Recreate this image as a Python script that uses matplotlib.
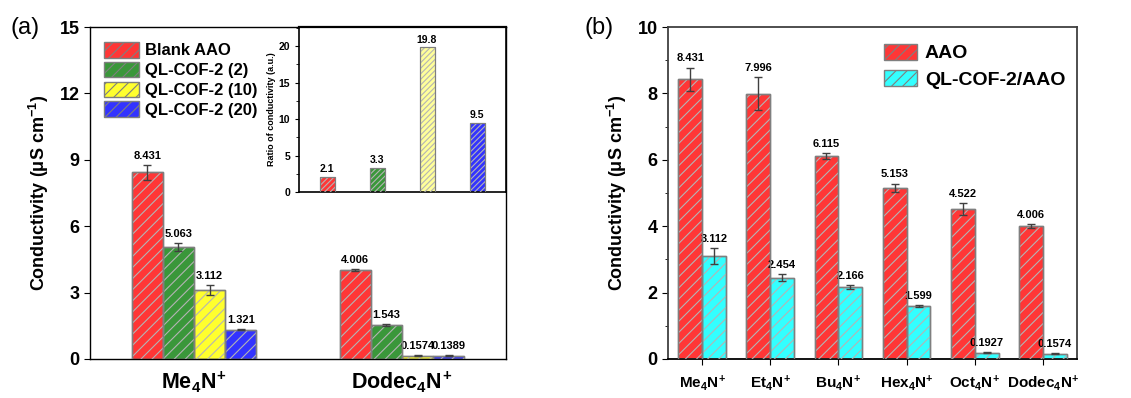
import numpy as np
import matplotlib
matplotlib.use("Agg")
import matplotlib.pyplot as plt

plt.rcParams['font.family'] = ['Liberation Sans', 'DejaVu Sans']
plt.rcParams['mathtext.fontset'] = 'custom'
plt.rcParams['mathtext.rm'] = 'Liberation Sans:bold'
plt.rcParams['mathtext.bf'] = 'Liberation Sans:bold'
plt.rcParams['mathtext.it'] = 'Liberation Sans:bold'
plt.rcParams['hatch.linewidth'] = 0.8

# ---- panel (a) data
groups_a = [r'$\mathbf{Me_4N^{\!+}}$', r'$\mathbf{Dodec_4N^{\!+}}$']
series_a = ['Blank AAO', 'QL-COF-2 (2)', 'QL-COF-2 (10)', 'QL-COF-2 (20)']
vals_a = [[8.431, 4.006], [5.063, 1.543], [3.112, 0.1574], [1.321, 0.1389]]
errs_a = [[0.34, 0.05], [0.18, 0.03], [0.24, 0.02], [0.03, 0.02]]
labels_a = [['8.431', '4.006'], ['5.063', '1.543'], ['3.112', '0.1574'], ['1.321', '0.1389']]
colors_a = ['#ff3636', '#3a973a', '#ffff2e', '#3333ff']

# inset data
ratio = [2.1, 3.3, 19.8, 9.5]
ratio_colors = ['#ff3636', '#3a973a', '#ffff9a', '#3333ff']

# ---- panel (b) data
groups_b = [r'$\mathbf{Me_4N^{\!+}}$', r'$\mathbf{Et_4N^{\!+}}$',
            r'$\mathbf{Bu_4N^{\!+}}$', r'$\mathbf{Hex_4N^{\!+}}$',
            r'$\mathbf{Oct_4N^{\!+}}$', r'$\mathbf{Dodec_4N^{\!+}}$']
aao = [8.431, 7.996, 6.115, 5.153, 4.522, 4.006]
aao_err = [0.35, 0.5, 0.09, 0.13, 0.17, 0.07]
cof = [3.112, 2.454, 2.166, 1.599, 0.1927, 0.1574]
cof_err = [0.24, 0.1, 0.07, 0.03, 0.02, 0.01]
aao_lbl = ['8.431', '7.996', '6.115', '5.153', '4.522', '4.006']
cof_lbl = ['3.112', '2.454', '2.166', '1.599', '0.1927', '0.1574']

edge = '#7f7f7f'
hatchc = '#b4b4b4'


def hbar(ax, x, h, w, c, yerr=None):
    ax.bar(x, h, w, color=c, edgecolor=edge, linewidth=1.0, zorder=2)
    ax.bar(x, h, w, color='none', edgecolor=hatchc, hatch='///', linewidth=0, zorder=3)
    ax.bar(x, h, w, color='none', edgecolor=edge, linewidth=1.0, zorder=4)
    if yerr is not None:
        ax.errorbar(x, h, yerr=yerr, fmt='none', ecolor='#404040', elinewidth=1,
                    capsize=3, capthick=1, zorder=5)


fig = plt.figure(figsize=(11.31, 3.98), dpi=100)

# ================= panel (a)
axa = fig.add_axes([0.0796, 0.098, 0.3678, 0.834])
xa = np.arange(1, len(groups_a) + 1)
w = 0.15
for i in range(len(series_a)):
    xs = xa + (i - 1.5) * w
    hbar(axa, xs, vals_a[i], w, colors_a[i], errs_a[i])
    for x, v, e, t in zip(xs, vals_a[i], errs_a[i], labels_a[i]):
        axa.annotate(t, (x, v + e), xytext=(0, 3), textcoords='offset points',
                     ha='center', va='bottom', fontsize=8, fontweight='bold')
axa.set_xlim(0.5, 2.5)
axa.set_ylim(0, 15)
axa.set_yticks(np.arange(0, 16, 3))
axa.set_xticks(xa)
axa.set_xticklabels(groups_a, fontsize=15.5)
axa.tick_params(axis='x', length=0, pad=8)
axa.tick_params(axis='y', direction='out', length=4, labelsize=13)
for t in axa.get_yticklabels():
    t.set_fontweight('bold')
axa.set_ylabel('Conductivity (μS cm$^{-1}$)', fontsize=13, fontweight='bold', labelpad=6)
for s in axa.spines.values():
    s.set_linewidth(1.0)

handles = [plt.Rectangle((0, 0), 1, 1, facecolor=c, edgecolor=edge, hatch='///')
           for c in colors_a]
leg = axa.legend(handles, series_a, loc='upper left', bbox_to_anchor=(0.01, 0.985),
                 frameon=False, prop={'size': 12, 'weight': 'bold'},
                 handlelength=2.1, handleheight=1.05, labelspacing=0.2,
                 handletextpad=0.35, borderaxespad=0.2)
fig.text(0.009, 0.93, '(a)', fontsize=17, ha='left', va='center')

# inset
axi = fig.add_axes([0.2644, 0.5176, 0.183, 0.4144])
xi = np.arange(1, len(ratio) + 1)
for x, v, c in zip(xi, ratio, ratio_colors):
    axi.bar(x, v, 0.3, color=c, edgecolor=edge, linewidth=0.8, zorder=2)
    axi.bar(x, v, 0.3, color='none', edgecolor=hatchc, hatch='//////', linewidth=0, zorder=3)
    axi.bar(x, v, 0.3, color='none', edgecolor=edge, linewidth=0.8, zorder=4)
    axi.annotate(f'{v:.1f}', (x, v), xytext=(0, 2), textcoords='offset points',
                 ha='center', va='bottom', fontsize=7.5, fontweight='bold')
axi.set_xlim(0.44, 4.58)
axi.set_ylim(0, 22.6)
axi.set_xticks([])
axi.set_yticks(np.arange(0, 21, 5))
axi.set_yticks(np.arange(2.5, 22.6, 5), minor=True)
axi.tick_params(axis='y', which='major', length=3, labelsize=7.5)
axi.tick_params(axis='y', which='minor', length=2)
for t in axi.get_yticklabels():
    t.set_fontweight('bold')
axi.set_ylabel('Ratio of conductivity (a.u.)', fontsize=6.5, fontweight='bold', labelpad=2)
for s in axi.spines.values():
    s.set_linewidth(1.2)
axi.spines['top'].set_linewidth(1.6)

# ================= panel (b)
axb = fig.add_axes([0.5906, 0.098, 0.3617, 0.834])
xb = np.arange(1, len(groups_b) + 1)
wb = 0.35
hbar(axb, xb - wb / 2, aao, wb, '#ff3636', aao_err)
hbar(axb, xb + wb / 2, cof, wb, '#33ffff', cof_err)
for x, v, e, t in zip(xb - wb / 2, aao, aao_err, aao_lbl):
    axb.annotate(t, (x, v + e), xytext=(0, 3), textcoords='offset points',
                 ha='center', va='bottom', fontsize=8, fontweight='bold')
for x, v, e, t in zip(xb + wb / 2, cof, cof_err, cof_lbl):
    axb.annotate(t, (x, v + e), xytext=(0, 3), textcoords='offset points',
                 ha='center', va='bottom', fontsize=8, fontweight='bold')
axb.set_xlim(0.5, 6.5)
axb.set_ylim(0, 10)
axb.set_yticks(np.arange(0, 11, 2))
axb.set_yticks(np.arange(1, 10, 2), minor=True)
axb.set_xticks(xb)
axb.set_xticklabels(groups_b, fontsize=11)
axb.tick_params(axis='x', direction='out', length=4, pad=6)
axb.tick_params(axis='y', which='major', direction='out', length=4, labelsize=13)
axb.tick_params(axis='y', which='minor', direction='out', length=2.5)
for t in axb.get_yticklabels():
    t.set_fontweight('bold')
axb.set_ylabel('Conductivity (μS cm$^{-1}$)', fontsize=13, fontweight='bold', labelpad=6)
for s in axb.spines.values():
    s.set_linewidth(1.3)
    s.set_color('#404040')
axb.spines['bottom'].set_color('black')

handles_b = [plt.Rectangle((0, 0), 1, 1, facecolor=c, edgecolor=edge, hatch='///')
             for c in ['#ff3636', '#33ffff']]
axb.legend(handles_b, ['AAO', 'QL-COF-2/AAO'], loc='upper right',
           bbox_to_anchor=(1.0, 0.985), frameon=False,
           prop={'size': 14, 'weight': 'bold'}, handlelength=1.7, handleheight=0.9,
           labelspacing=0.4, handletextpad=0.4, borderaxespad=0.2)
fig.text(0.517, 0.93, '(b)', fontsize=17, ha='left', va='center')

fig.savefig('out.png', dpi=100)
